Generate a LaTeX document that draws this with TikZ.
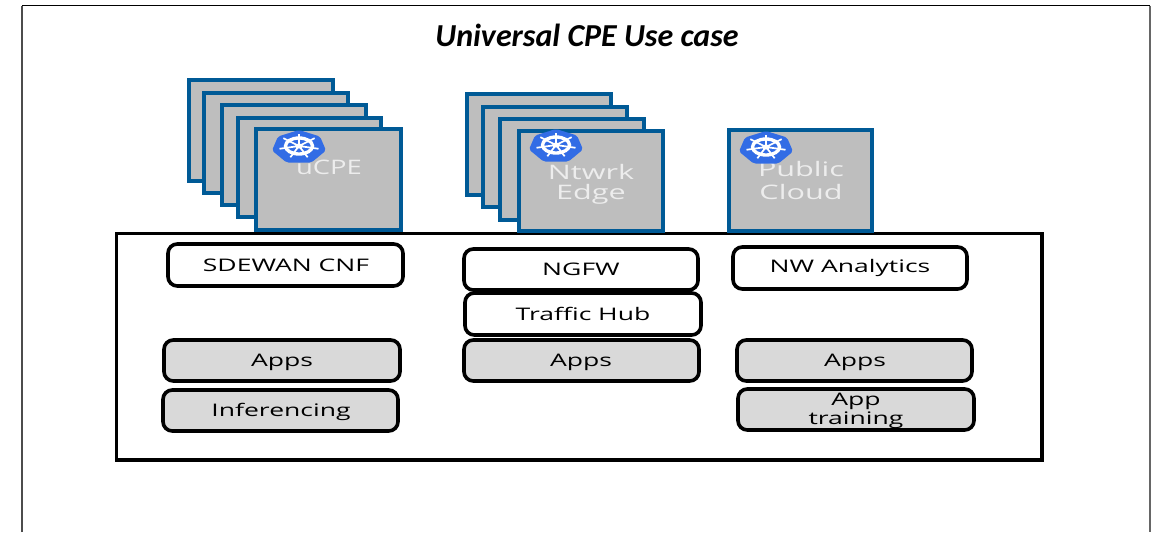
\documentclass[tikz,border=0pt]{standalone}
\usepackage{fontspec}
\setmainfont{Open Sans}
\newfontfamily\titlefont{Carlito}
\newcommand{\stbox}[1]{\scalebox{1.53}[1]{#1}}
\newcommand{\scard}[1]{\scalebox{1.53}[1]{#1}}
\tikzset{
  x=0.75pt,y=-0.75pt,
  card/.style={draw=cardblue,fill=cardgray,line width=3.1pt,line join=miter},
  slab/.style={draw=black,line width=2.7pt,rounded corners=7pt},
  whitebox/.style={slab,fill=white},
  graybox/.style={slab,fill=boxgray},
  boxtext/.style={font=\fontsize{13}{10}\selectfont,align=center,inner sep=0pt,text=black},
  cardtext/.style={font=\fontsize{15}{12}\selectfont,align=center,inner sep=0pt,text=white!93!black},
}
\definecolor{cardblue}{HTML}{005A96}
\definecolor{cardgray}{HTML}{BEBEBE}
\definecolor{boxgray}{HTML}{D9D9D9}
\definecolor{k8sblue}{HTML}{326CE5}
\newcommand{\cardrect}[5]{\draw[card] (#2+2,#3+2) rectangle (#4-2,#5-2); \coordinate (#1) at (#2,#3);}
\newcommand{\rbox}[6]{\draw[#2] (#3+1,#4+1) rectangle (#5-1,#6-1);
  \coordinate (#1) at ({(#3+#5)/2},{(#4+#6)/2});}
\newcommand{\kube}[2]{%
  \begin{scope}[shift={(#1,#2)}]
    \fill[k8sblue,rounded corners=1.5pt] (0,-17) -- (21,-10.5) -- (27,3.5) -- (12.5,15.5) -- (-12.5,15.5) -- (-27,3.5) -- (-21,-10.5) -- cycle;
    \foreach \a in {90,141.4,192.9,244.3,295.7,347.1,38.6}{
      \draw[white,line width=1.3pt] (0,-1) -- ++({20*cos(\a)},{-12.5*sin(\a)});
    }
    \draw[white,line width=2.5pt] (0,-1) ellipse [x radius=13.5,y radius=8];
    \fill[white] (0,-1) ellipse [x radius=4,y radius=2.5];
  \end{scope}}
\begin{document}
\begin{tikzpicture}
\useasboundingbox (0,0) rectangle (1151,532);
% page frame
\draw[black!70,line width=0.9pt] (22,532) -- (22,5.5);
\draw[black,line width=1.1pt] (22,5.5) -- (1150,5.5);
\draw[black!60,line width=0.9pt] (1150,5.5) -- (1150,532);
\node[font=\titlefont\bfseries\itshape\fontsize{24}{26}\selectfont,inner sep=0pt] (title) at (587,35) {Universal CPE Use case};
% main box
\draw[black,line width=2.6pt] (116.5,233.5) rectangle (1042,460);
% uCPE stack
\cardrect{u1}{187}{78}{335}{183}
\cardrect{u2}{202}{91}{350}{195}
\cardrect{u3}{220}{103}{368}{207}
\cardrect{u4}{236}{116}{383}{219}
\cardrect{u5}{254}{127}{403}{232}
\node[cardtext] (ucpe) at (329,167) {\scalebox{1.37}[1]{uCPE}};
\kube{299}{147}
% edge stack
\cardrect{e1}{465}{92}{613}{197}
\cardrect{e2}{481}{105}{629}{209}
\cardrect{e3}{498}{117}{646}{222}
\cardrect{e4}{517}{129}{665}{233}
\node[cardtext] (ntwrk) at (591,171.5) {\scard{Ntwrk}};
\node[cardtext] (edge) at (591,194) {\scard{Edge}};
\kube{556}{146}
% cloud
\cardrect{c1}{727}{128}{874}{233}
\node[cardtext] (public) at (801,169) {\scard{Public}};
\node[cardtext] (cloud) at (801,192) {\scard{Cloud}};
\kube{766}{148}
% inner boxes
\rbox{b1}{whitebox}{167}{243}{404}{287}
\node[boxtext] (sdewan) at (286,265) {\stbox{SDEWAN CNF}};
\rbox{b2}{whitebox}{463}{248}{699}{291}
\node[boxtext] (ngfw) at (581,269) {\stbox{NGFW}};
\rbox{b3}{whitebox}{464}{292}{702}{336}
\node[boxtext] (hub) at (583,314) {\stbox{Traffic Hub}};
\rbox{b4}{whitebox}{732}{246}{968}{290}
\node[boxtext] (nwa) at (850,268) {\stbox{NW Analytics}};
\rbox{b5}{graybox}{163}{339}{401}{382}
\node[boxtext] (apps1) at (282,362) {\stbox{Apps}};
\rbox{b6}{graybox}{162}{389}{399}{432}
\node[boxtext] (inf) at (281,411.5) {\stbox{Inferencing}};
\rbox{b7}{graybox}{463}{339}{700}{382}
\node[boxtext] (apps2) at (581,362) {\stbox{Apps}};
\rbox{b8}{graybox}{736}{339}{973}{382}
\node[boxtext] (apps3) at (855,362) {\stbox{Apps}};
\rbox{b9}{graybox}{737}{388}{975}{431}
\node[boxtext] (app) at (856,401) {\stbox{App}};
\node[boxtext] (train) at (856,420) {\stbox{training}};
\end{tikzpicture}
\end{document}
